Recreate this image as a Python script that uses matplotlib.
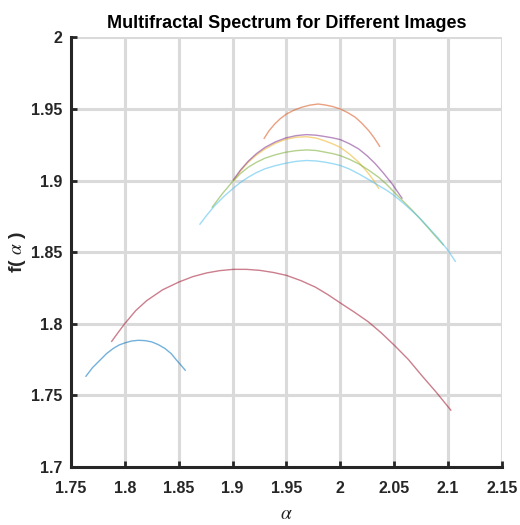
import matplotlib
matplotlib.use("Agg")
import matplotlib.pyplot as plt

plt.rcParams["font.family"] = ["Liberation Sans", "DejaVu Sans"]
plt.rcParams["mathtext.fontset"] = "stix"

# alpha / f(alpha) points, one pair of lists per image
alpha_1 = [1.7639, 1.7700, 1.7769, 1.7830, 1.7892, 1.7946, 1.8000, 1.8062, 1.8124,
           1.8186, 1.8249, 1.8310, 1.8372, 1.8430, 1.8480, 1.8520, 1.8560]
f_1 = [1.7632, 1.7692, 1.7744, 1.7790, 1.7826, 1.7850, 1.7865, 1.7878, 1.7883,
       1.7881, 1.7872, 1.7853, 1.7826, 1.7790, 1.7744, 1.7710, 1.7674]

alpha_2 = [1.9293, 1.9340, 1.9392, 1.9445, 1.9500, 1.9570, 1.9640, 1.9717, 1.9794,
           1.9861, 1.9930, 2.0000, 2.0070, 2.0139, 2.0200, 2.0263, 2.0315, 2.0365]
f_2 = [1.9295, 1.9350, 1.9396, 1.9434, 1.9465, 1.9492, 1.9512, 1.9527, 1.9535,
       1.9528, 1.9517, 1.9500, 1.9474, 1.9442, 1.9400, 1.9349, 1.9297, 1.9239]

alpha_3 = [1.9010, 1.9075, 1.9145, 1.9220, 1.9300, 1.9397, 1.9494, 1.9590, 1.9686,
           1.9775, 1.9861, 1.9930, 2.0000, 2.0085, 2.0170, 2.0215, 2.0263, 2.0310, 2.0355]
f_3 = [1.9000, 1.9068, 1.9128, 1.9178, 1.9220, 1.9260, 1.9288, 1.9303, 1.9306,
       1.9297, 1.9276, 1.9256, 1.9232, 1.9185, 1.9128, 1.9090, 1.9047, 1.9000, 1.8946]

alpha_4 = [1.9006, 1.9075, 1.9145, 1.9220, 1.9300, 1.9397, 1.9494, 1.9590, 1.9686,
           1.9775, 1.9861, 1.9930, 2.0000, 2.0085, 2.0170, 2.0250, 2.0325, 2.0400,
           2.0480, 2.0572]
f_4 = [1.9004, 1.9075, 1.9135, 1.9187, 1.9231, 1.9270, 1.9298, 1.9314, 1.9321,
       1.9317, 1.9307, 1.9298, 1.9286, 1.9257, 1.9221, 1.9172, 1.9117, 1.9052,
       1.8977, 1.8877]

alpha_5 = [1.8811, 1.8905, 1.9000, 1.9070, 1.9145, 1.9220, 1.9300, 1.9397, 1.9494,
           1.9590, 1.9686, 1.9775, 1.9861, 1.9930, 2.0000, 2.0085, 2.0170, 2.0260,
           2.0355, 2.0430, 2.0500, 2.0580, 2.0661, 2.0740, 2.0815, 2.0885, 2.0955]
f_5 = [1.8814, 1.8908, 1.8993, 1.9047, 1.9093, 1.9127, 1.9156, 1.9180, 1.9198,
       1.9209, 1.9214, 1.9210, 1.9198, 1.9188, 1.9174, 1.9148, 1.9117, 1.9074,
       1.9023, 1.8973, 1.8918, 1.8858, 1.8797, 1.8733, 1.8669, 1.8609, 1.8551]

alpha_6 = [1.8697, 1.8765, 1.8836, 1.8918, 1.9000, 1.9070, 1.9145, 1.9220, 1.9300,
           1.9397, 1.9494, 1.9590, 1.9686, 1.9775, 1.9861, 1.9930, 2.0000, 2.0085,
           2.0170, 2.0260, 2.0355, 2.0430, 2.0500, 2.0580, 2.0661, 2.0740, 2.0815,
           2.0910, 2.1000, 2.1067]
f_6 = [1.8695, 1.8762, 1.8826, 1.8888, 1.8942, 1.8985, 1.9023, 1.9055, 1.9082,
       1.9104, 1.9121, 1.9134, 1.9140, 1.9137, 1.9128, 1.9118, 1.9105, 1.9080,
       1.9047, 1.9008, 1.8965, 1.8932, 1.8895, 1.8845, 1.8791, 1.8735, 1.8674,
       1.8595, 1.8511, 1.8435]

alpha_7 = [1.7878, 1.7940, 1.8000, 1.8100, 1.8202, 1.8350, 1.8500, 1.8630, 1.8759,
           1.8880, 1.9006, 1.9130, 1.9253, 1.9380, 1.9500, 1.9635, 1.9768, 1.9885,
           2.0000, 2.0130, 2.0262, 2.0380, 2.0500, 2.0630, 2.0753, 2.0890, 2.1025]
f_7 = [1.7876, 1.7940, 1.8000, 1.8090, 1.8160, 1.8236, 1.8290, 1.8328, 1.8354,
       1.8370, 1.8379, 1.8379, 1.8372, 1.8357, 1.8337, 1.8300, 1.8255, 1.8202,
       1.8144, 1.8080, 1.8011, 1.7935, 1.7849, 1.7750, 1.7639, 1.7520, 1.7395]

series = [(alpha_1, f_1), (alpha_2, f_2), (alpha_3, f_3), (alpha_4, f_4),
          (alpha_5, f_5), (alpha_6, f_6), (alpha_7, f_7)]

x_ticks = [1.75, 1.8, 1.85, 1.9, 1.95, 2, 2.05, 2.1, 2.15]
x_tick_labels = ["1.75", "1.8", "1.85", "1.9", "1.95", "2", "2.05", "2.1", "2.15"]
y_ticks = [1.7, 1.75, 1.8, 1.85, 1.9, 1.95, 2]
y_tick_labels = ["1.7", "1.75", "1.8", "1.85", "1.9", "1.95", "2"]

# MATLAB default line order
COLORS = ["#0072BD", "#D95319", "#EDB120", "#7E2F8E", "#77AC30", "#4DBEEE", "#A2142F"]

fig = plt.figure(figsize=(5.2, 5.25), dpi=100)
ax = fig.add_axes([0.1365, 0.1112, 0.8288, 0.8174])

for (a, f), c in zip(series, COLORS):
    ax.plot(a, f, color=c, lw=1.0, alpha=0.55, zorder=3)

ax.set_xlim(1.75, 2.15)
ax.set_ylim(1.7, 2.0)
ax.set_xticks(x_ticks)
ax.set_xticklabels(x_tick_labels)
ax.set_yticks(y_ticks)
ax.set_yticklabels(y_tick_labels)

ax.grid(True, color="#dadada", lw=2.2, zorder=0)
ax.set_axisbelow(True)
for side in ("top", "right"):
    ax.spines[side].set_visible(False)
for side in ("left", "bottom"):
    ax.spines[side].set_linewidth(2.2)
    ax.spines[side].set_color("#262626")

ax.tick_params(direction="in", length=4, width=2, color="#262626",
               labelsize=11.5, labelcolor="#262626")
ax.tick_params(axis="x", pad=10)
ax.tick_params(axis="y", pad=6)
for lab in ax.get_xticklabels() + ax.get_yticklabels():
    lab.set_fontweight("bold")

ax.set_title("Multifractal Spectrum for Different Images", fontsize=13,
             fontweight="bold", color="black", pad=7)
ax.set_xlabel(r"$\alpha$", fontsize=14, color="#262626", labelpad=7.5)
ax.set_ylabel(r"f( $\alpha$ )", fontsize=14, fontweight="bold", color="#262626", labelpad=2)

fig.savefig("out.png", dpi=100)
